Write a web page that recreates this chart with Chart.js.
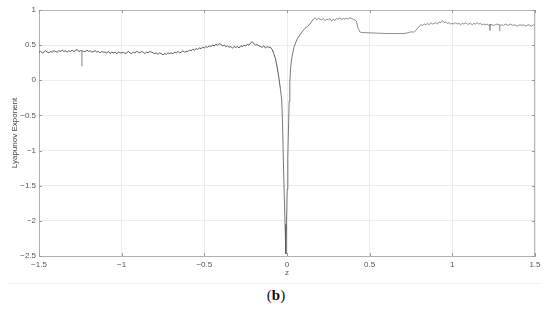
<!DOCTYPE html>
<html>
<head>
<meta charset="utf-8">
<script src="https://cdn.jsdelivr.net/npm/chart.js@4/dist/chart.umd.min.js"></script>
<style>
  html, body { margin: 0; padding: 0; background: #fff; }
  #wrap { position: relative; width: 550px; height: 309px; overflow: hidden; }
  #c { position: absolute; left: 0; top: 0; }
  #sep { position: absolute; left: 8px; top: 283px; width: 534px; height: 0; border-top: 1px solid #f3f3f3; }
  #cap { position: absolute; left: 0; width: 552px; top: 287px; text-align: center;
         font-family: "Liberation Serif", "DejaVu Serif", serif; font-size: 15px; color: #111; }
</style>
</head>
<body>
<div id="wrap">
  <canvas id="c" width="550" height="283"></canvas>
  <div id="sep"></div>
  <div id="cap">(<b>b</b>)</div>
</div>
<script>
// ---- Data ----
const xTitle = "z";
const yTitle = "Lyapunov Exponent";
const xTickValues = [-1.5, -1, -0.5, 0, 0.5, 1, 1.5];
const yTickValues = [-2.5, -2, -1.5, -1, -0.5, 0, 0.5, 1];

// segment 1: z from -1.50 to -0.11, step 0.01
const leftStartZ = -1.5;
const leftStepZ = 0.01;
const leftValues = [
  0.40,0.41,0.39,0.40,0.42,0.40,0.39,0.41,0.40,0.42,
  0.41,0.40,0.42,0.41,0.43,0.41,0.42,0.40,0.42,0.41,
  0.43,0.41,0.42,0.44,0.41,0.42,0.42,0.41,0.41,0.43,
  0.41,0.42,0.40,0.41,0.42,0.40,0.41,0.39,0.41,0.40,
  0.40,0.39,0.41,0.38,0.40,0.39,0.40,0.38,0.40,0.39,
  0.39,0.40,0.38,0.39,0.41,0.39,0.38,0.40,0.39,0.41,
  0.40,0.39,0.41,0.40,0.38,0.40,0.39,0.41,0.40,0.39,
  0.38,0.39,0.37,0.39,0.38,0.36,0.38,0.37,0.39,0.38,
  0.39,0.38,0.40,0.39,0.41,0.39,0.40,0.42,0.40,0.41,
  0.41,0.43,0.42,0.44,0.43,0.45,0.44,0.46,0.45,0.47,
  0.46,0.48,0.47,0.49,0.48,0.50,0.49,0.51,0.50,0.52,
  0.51,0.49,0.50,0.48,0.49,0.47,0.48,0.46,0.48,0.47,
  0.48,0.46,0.49,0.48,0.50,0.49,0.51,0.50,0.53,0.55,
  0.52,0.50,0.51,0.49,0.48,0.47,0.49,0.46,0.48,0.47
];

// narrow downward spikes
const spikeZ = [-1.2415, -1.2405, -1.2395, 1.2265, 1.2275, 1.2285, 1.2855, 1.2865, 1.2875];
const spikeValues = [0.42, 0.20, 0.42, 0.80, 0.71, 0.80, 0.79, 0.70, 0.79];

// segment 2: the dip around z = 0
const dipZ = [-0.10,-0.09,-0.08,-0.07,-0.06,-0.05,-0.04,-0.032,-0.027,-0.022,-0.017,-0.012,-0.007,-0.003,0.001,0.005,0.009,0.013,0.017,0.022,0.03,0.042,0.06,0.079,0.095,0.109,0.125,0.139,0.15,0.16];
const dipValues = [0.47,0.44,0.38,0.31,0.19,0.05,-0.12,-0.28,-0.6,-1.15,-1.6,-2.05,-2.47,-2.0,-1.55,-1.1,-0.68,-0.3,-0.03,0.18,0.33,0.47,0.58,0.65,0.70,0.74,0.77,0.80,0.84,0.87];

// segment 3: z from 0.17 to 0.42, step 0.01
const highStartZ = 0.17;
const highStepZ = 0.01;
const highValues = [
  0.89,0.86,0.88,0.87,0.86,0.88,0.85,0.87,0.86,
  0.88,0.84,0.87,0.85,0.88,0.87,0.89,0.86,0.88,0.87,
  0.88,0.87,0.89,0.88,0.87,0.86,0.84
];

// segment 4: plateau
const plateauZ = [0.43,0.44,0.45,0.50,0.55,0.60,0.65,0.70,0.72,0.74,0.75,0.76,0.77,0.78,0.79];
const plateauValues = [0.74,0.69,0.68,0.675,0.67,0.665,0.665,0.665,0.67,0.68,0.69,0.685,0.69,0.71,0.74];

// segment 5: z from 0.80 to 1.50, step 0.01
const rightStartZ = 0.80;
const rightStepZ = 0.01;
const rightValues = [
  0.77,0.79,0.78,0.80,0.79,0.81,0.79,0.82,0.80,0.81,
  0.82,0.80,0.83,0.82,0.85,0.82,0.83,0.81,0.82,0.80,
  0.81,0.80,0.82,0.80,0.81,0.79,0.81,0.80,0.82,0.80,
  0.80,0.81,0.79,0.81,0.80,0.82,0.80,0.81,0.79,0.80,
  0.79,0.80,0.78,0.79,0.79,0.78,0.79,0.80,0.79,0.78,
  0.79,0.78,0.80,0.79,0.78,0.80,0.79,0.78,0.79,0.77,
  0.78,0.79,0.78,0.79,0.77,0.78,0.79,0.78,0.77,0.79,0.78
];

// ---- build points ----
function stepped(start, step, vals) {
  return vals.map((v, i) => ({ x: Math.round((start + i * step) * 1000) / 1000, y: v }));
}
function paired(zs, vals) {
  return vals.map((v, i) => ({ x: zs[i], y: v }));
}
const points = [].concat(
  stepped(leftStartZ, leftStepZ, leftValues),
  paired(spikeZ, spikeValues),
  paired(dipZ, dipValues),
  stepped(highStartZ, highStepZ, highValues),
  paired(plateauZ, plateauValues),
  stepped(rightStartZ, rightStepZ, rightValues)
).sort((a, b) => a.x - b.x);

function fmt(v) {
  const s = (Math.round(v * 10) / 10).toString();
  return s.replace('-', '\u2212');
}

function segColor(c) {
  const x0 = c.p0.parsed.x, x1 = c.p1.parsed.x;
  const dy = Math.abs(c.p1.parsed.y - c.p0.parsed.y);
  const narrow = Math.abs(x1 - x0) < 0.002;
  if (narrow && dy > 0.05 && (x0 < -0.2 || x0 > 1)) return '#9a9a9a';
  if (x0 > 0.15) return '#6e6e6e';
  if (x0 > -0.05) return '#555';
  return '#333';
}

const frameTicks = {
  id: 'frameTicks',
  afterDraw(chart) {
    const { ctx, chartArea: a, scales } = chart;
    ctx.save();
    ctx.strokeStyle = '#b5b5b5';
    ctx.lineWidth = 1;
    ctx.beginPath();
    ctx.moveTo(a.left, a.top + 0.5); ctx.lineTo(a.right, a.top + 0.5);
    ctx.moveTo(a.right - 0.5, a.top); ctx.lineTo(a.right - 0.5, a.bottom);
    ctx.stroke();
    ctx.strokeStyle = '#999';
    ctx.beginPath();
    const tl = 3;
    xTickValues.forEach(v => {
      const px = Math.round(scales.x.getPixelForValue(v)) + 0.5;
      ctx.moveTo(px, a.bottom); ctx.lineTo(px, a.bottom - tl);
      ctx.moveTo(px, a.top); ctx.lineTo(px, a.top + tl);
    });
    yTickValues.forEach(v => {
      const py = Math.round(scales.y.getPixelForValue(v)) + 0.5;
      ctx.moveTo(a.left, py); ctx.lineTo(a.left + tl, py);
      ctx.moveTo(a.right, py); ctx.lineTo(a.right - tl, py);
    });
    ctx.stroke();
    ctx.restore();
  }
};

const tickFont = { family: "'Liberation Sans', Arial, sans-serif", size: 8 };

new Chart(document.getElementById('c'), {
  type: 'line',
  data: {
    datasets: [{
      data: points,
      borderColor: '#333',
      borderWidth: 0.8,
      segment: { borderColor: segColor },
      pointRadius: 0,
      tension: 0,
      fill: false
    }]
  },
  options: {
    responsive: false,
    animation: false,
    devicePixelRatio: 1,
    layout: { padding: { left: 0, right: 15, top: 10, bottom: 0 } },
    plugins: { legend: { display: false }, tooltip: { enabled: false }, title: { display: false } },
    scales: {
      x: {
        type: 'linear',
        min: -1.5, max: 1.5,
        afterBuildTicks: s => { s.ticks = xTickValues.map(v => ({ value: v })); },
        afterFit: s => { s.height = 27; },
        grid: { color: '#ececec', lineWidth: 1, drawTicks: false },
        border: { display: true, color: '#b0b0b0', width: 1 },
        ticks: { padding: 4, color: '#555', font: tickFont, maxRotation: 0, callback: v => fmt(v) },
        title: { display: true, text: xTitle, color: '#555', font: tickFont, padding: { top: 0, bottom: 5 } }
      },
      y: {
        type: 'linear',
        min: -2.5, max: 1,
        afterBuildTicks: s => { s.ticks = yTickValues.map(v => ({ value: v })); },
        afterFit: s => { s.width = 39; },
        grid: { color: '#ececec', lineWidth: 1, drawTicks: false },
        border: { display: true, color: '#b0b0b0', width: 1 },
        ticks: { padding: 3, color: '#555', font: tickFont, callback: v => fmt(v) },
        title: { display: true, text: yTitle, color: '#444', font: tickFont, padding: { top: 10, bottom: 0 } }
      }
    }
  },
  plugins: [frameTicks]
});
</script>
</body>
</html>
